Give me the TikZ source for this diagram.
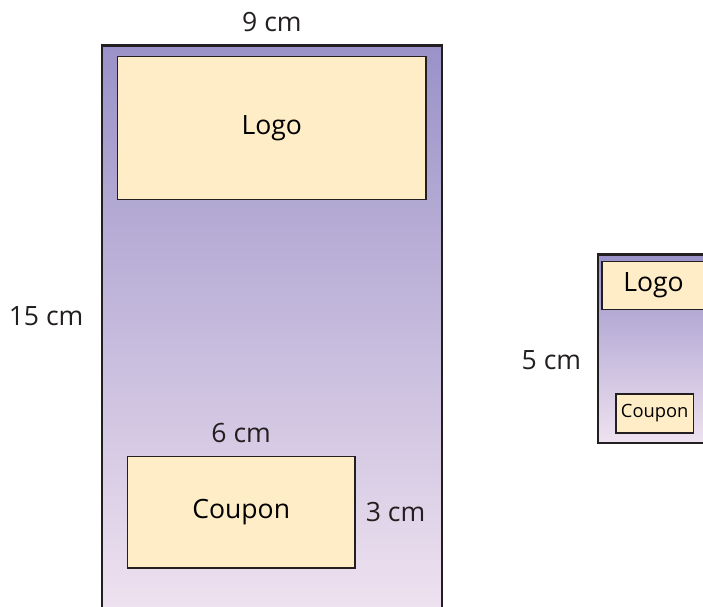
\documentclass[tikz,border=0pt]{standalone}
\usepackage{fontspec}
\setmainfont{Open Sans}
\usetikzlibrary{positioning}

\definecolor{sheettop}{HTML}{9A92C8}
\definecolor{sheetmid}{HTML}{C6BDDF}
\definecolor{sheetbot}{HTML}{EFE2F0}
\definecolor{adfill}{HTML}{FEEDC7}
\definecolor{edge}{HTML}{231F20}

\begin{document}
\begin{tikzpicture}[
  font=\fontsize{20}{24}\selectfont,
  sheet/.style={
    draw=edge, line width=2pt,
    top color=sheettop, middle color=sheetmid, bottom color=sheetbot,
    anchor=north west, inner sep=0pt
  },
  ad/.style={
    draw=edge, line width=1.2pt,
    fill=adfill,
    anchor=north west, inner sep=0pt
  },
  dim/.style={inner sep=0pt, text=edge}
]
\useasboundingbox (0,0) rectangle (18.6,-16.06);
\clip (0,0) rectangle (18.6,-16.06);

% large flyer
\node[sheet, minimum width=9cm, minimum height=15cm] (big) at (2.66,-1.17) {};
\node[ad, minimum width=8.16cm, minimum height=3.79cm] (logo) at (3.09,-1.47) {Logo};
\node[ad, minimum width=6.02cm, minimum height=2.95cm] (coupon) at (3.35,-12.06) {Coupon};

\node[dim, above=0.32cm of big] (wbig) {9 cm};
\node[dim] (hbig) at (1.22,-8.36) {15 cm};
\node[dim, above=0.34cm of coupon] (wcoupon) {6 cm};
\node[dim, right=0.26cm of coupon] (hcoupon) {3 cm};

% small flyer
\node[sheet, minimum width=3cm, minimum height=5cm] (small) at (15.79,-6.69) {};
\node[ad, minimum width=2.74cm, minimum height=1.27cm] (logosmall) at (15.90,-6.90) {Logo};
\node[ad, minimum width=2.06cm, minimum height=1.03cm,
  font=\fontsize{13.8}{16}\selectfont] (couponsmall) at (16.27,-10.40) {Coupon};

\node[dim] (hsmall) at (14.59,-9.52) {5 cm};

\end{tikzpicture}
\end{document}
